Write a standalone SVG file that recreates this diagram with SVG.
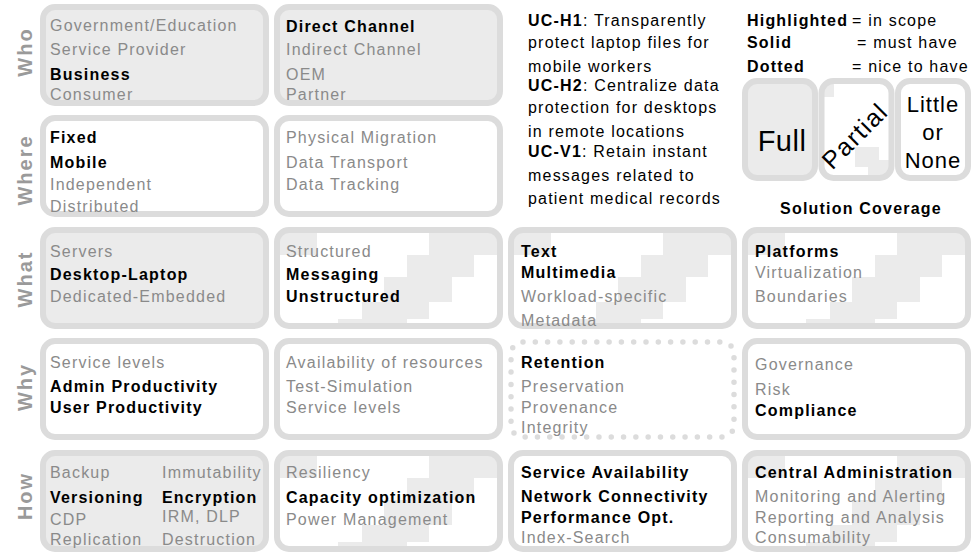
<svg xmlns="http://www.w3.org/2000/svg" xmlns:xlink="http://www.w3.org/1999/xlink" width="976" height="552" viewBox="0 0 976 552">
<style>
text{font-family:"Liberation Sans",Arial,sans-serif;font-size:16px;letter-spacing:1.2px}
.g{fill:#8a8a8a}
.b{fill:#000;font-weight:bold}
.lbl{fill:#9a9a9a;font-weight:bold;font-size:20px;letter-spacing:2px}
.bg{fill:#fff;stroke:none}
.full{fill:#ebebeb;stroke:none}
.frame{fill:none;stroke:#dcdcdc;stroke-width:6}
.dots{fill:none;stroke:#dcdcdc;stroke-width:5.5;stroke-dasharray:0 12.3;stroke-linecap:round}
.st{fill:#ebebeb}
</style>
<defs>
<clipPath id="clip"><rect x="3" y="3" width="223" height="96" rx="12"/></clipPath>
<g id="stairs">
<rect class="st" x="6" y="6" width="37" height="22"/>
<rect class="st" x="155" y="6" width="70" height="22"/>
<rect class="st" x="133" y="28" width="67" height="22"/>
<rect class="st" x="110" y="50" width="68" height="25"/>
<rect class="st" x="88" y="75" width="67" height="17"/>
<rect class="st" x="64" y="92" width="69" height="8"/>
</g>
<clipPath id="lclip"><rect x="821.5" y="81" width="70" height="97" rx="12"/></clipPath>
</defs>

<g id="row-labels">
<text class="lbl" text-anchor="middle" transform="translate(32,52) rotate(-90)">Who</text>
<text class="lbl" text-anchor="middle" transform="translate(32,170) rotate(-90)">Where</text>
<text class="lbl" text-anchor="middle" transform="translate(32,279) rotate(-90)">What</text>
<text class="lbl" text-anchor="middle" transform="translate(32,387) rotate(-90)">Why</text>
<text class="lbl" text-anchor="middle" transform="translate(32,496) rotate(-90)">How</text>
</g>

<!-- WHO -->
<g id="who-1" transform="translate(40,4)">
<rect class="full" x="3" y="3" width="223" height="96" rx="12"/>
<rect class="frame" x="3" y="3" width="223" height="96" rx="12"/>
<text x="10" y="27" class="g">Government/Education</text>
<text x="10" y="51" class="g">Service Provider</text>
<text x="10" y="76" class="b">Business</text>
<text x="10" y="96" class="g">Consumer</text>
</g>
<g id="who-2" transform="translate(274,4)">
<rect class="full" x="3" y="3" width="223" height="96" rx="12"/>
<rect class="frame" x="3" y="3" width="223" height="96" rx="12"/>
<text x="12" y="28" class="b">Direct Channel</text>
<text x="12" y="51" class="g">Indirect Channel</text>
<text x="12" y="76" class="g">OEM</text>
<text x="12" y="96" class="g">Partner</text>
</g>

<!-- WHERE -->
<g id="where-1" transform="translate(40,115)">
<rect class="bg" x="3" y="3" width="223" height="96" rx="12"/>
<rect class="frame" x="3" y="3" width="223" height="96" rx="12"/>
<text x="10" y="28" class="b">Fixed</text>
<text x="10" y="53" class="b">Mobile</text>
<text x="10" y="75" class="g">Independent</text>
<text x="10" y="97" class="g">Distributed</text>
</g>
<g id="where-2" transform="translate(274,115)">
<rect class="bg" x="3" y="3" width="223" height="96" rx="12"/>
<rect class="frame" x="3" y="3" width="223" height="96" rx="12"/>
<text x="12" y="28" class="g">Physical Migration</text>
<text x="12" y="53" class="g">Data Transport</text>
<text x="12" y="75" class="g">Data Tracking</text>
</g>

<!-- WHAT -->
<g id="what-1" transform="translate(40,227)">
<rect class="full" x="3" y="3" width="223" height="96" rx="12"/>
<rect class="frame" x="3" y="3" width="223" height="96" rx="12"/>
<text x="10" y="30" class="g">Servers</text>
<text x="10" y="53" class="b">Desktop-Laptop</text>
<text x="10" y="75" class="g">Dedicated-Embedded</text>
</g>
<g id="what-2" transform="translate(274,227)">
<rect class="bg" x="3" y="3" width="223" height="96" rx="12"/>
<use xlink:href="#stairs" clip-path="url(#clip)"/>
<rect class="frame" x="3" y="3" width="223" height="96" rx="12"/>
<text x="12" y="30" class="g">Structured</text>
<text x="12" y="53" class="b">Messaging</text>
<text x="12" y="75" class="b">Unstructured</text>
</g>
<g id="what-3" transform="translate(508,227)">
<rect class="bg" x="3" y="3" width="223" height="96" rx="12"/>
<use xlink:href="#stairs" clip-path="url(#clip)"/>
<rect class="frame" x="3" y="3" width="223" height="96" rx="12"/>
<text x="13" y="30" class="b">Text</text>
<text x="13" y="51" class="b">Multimedia</text>
<text x="13" y="75" class="g">Workload-specific</text>
<text x="13" y="99" class="g">Metadata</text>
</g>
<g id="what-4" transform="translate(742,227)">
<rect class="bg" x="3" y="3" width="223" height="96" rx="12"/>
<use xlink:href="#stairs" clip-path="url(#clip)"/>
<rect class="frame" x="3" y="3" width="223" height="96" rx="12"/>
<text x="13" y="30" class="b">Platforms</text>
<text x="13" y="51" class="g">Virtualization</text>
<text x="13" y="75" class="g">Boundaries</text>
</g>

<!-- WHY -->
<g id="why-1" transform="translate(40,338)">
<rect class="bg" x="3" y="3" width="223" height="96" rx="12"/>
<rect class="frame" x="3" y="3" width="223" height="96" rx="12"/>
<text x="10" y="30" class="g">Service levels</text>
<text x="10" y="54" class="b">Admin Productivity</text>
<text x="10" y="75" class="b">User Productivity</text>
</g>
<g id="why-2" transform="translate(274,338)">
<rect class="bg" x="3" y="3" width="223" height="96" rx="12"/>
<rect class="frame" x="3" y="3" width="223" height="96" rx="12"/>
<text x="12" y="30" class="g">Availability of resources</text>
<text x="12" y="54" class="g">Test-Simulation</text>
<text x="12" y="75" class="g">Service levels</text>
</g>
<g id="why-3" transform="translate(508,338)">
<rect class="bg" x="3" y="3" width="223" height="96" rx="12"/>
<rect class="dots" x="3" y="4" width="223" height="95" rx="12"/>
<text x="13" y="30" class="b">Retention</text>
<text x="13" y="54" class="g">Preservation</text>
<text x="13" y="75" class="g">Provenance</text>
<text x="13" y="95" class="g">Integrity</text>
</g>
<g id="why-4" transform="translate(742,338)">
<rect class="bg" x="3" y="3" width="223" height="96" rx="12"/>
<rect class="frame" x="3" y="3" width="223" height="96" rx="12"/>
<text x="13" y="32" class="g">Governance</text>
<text x="13" y="57" class="g">Risk</text>
<text x="13" y="78" class="b">Compliance</text>
</g>

<!-- HOW -->
<g id="how-1" transform="translate(40,450)">
<rect class="full" x="3" y="3" width="223" height="96" rx="12"/>
<rect class="frame" x="3" y="3" width="223" height="96" rx="12"/>
<text x="10" y="28" class="g">Backup</text>
<text x="10" y="53" class="b">Versioning</text>
<text x="10" y="75" class="g">CDP</text>
<text x="10" y="95" class="g">Replication</text>
<text x="122" y="28" class="g">Immutability</text>
<text x="122" y="53" class="b">Encryption</text>
<text x="122" y="72" class="g">IRM, DLP</text>
<text x="122" y="95" class="g">Destruction</text>
</g>
<g id="how-2" transform="translate(274,450)">
<rect class="bg" x="3" y="3" width="223" height="96" rx="12"/>
<use xlink:href="#stairs" clip-path="url(#clip)"/>
<rect class="frame" x="3" y="3" width="223" height="96" rx="12"/>
<text x="12" y="28" class="g">Resiliency</text>
<text x="12" y="53" class="b">Capacity optimization</text>
<text x="12" y="75" class="g">Power Management</text>
</g>
<g id="how-3" transform="translate(508,450)">
<rect class="bg" x="3" y="3" width="223" height="96" rx="12"/>
<rect class="frame" x="3" y="3" width="223" height="96" rx="12"/>
<text x="13" y="28" class="b">Service Availability</text>
<text x="13" y="52" class="b">Network Connectivity</text>
<text x="13" y="73" class="b">Performance Opt.</text>
<text x="13" y="93" class="g">Index-Search</text>
</g>
<g id="how-4" transform="translate(742,450)">
<rect class="bg" x="3" y="3" width="223" height="96" rx="12"/>
<use xlink:href="#stairs" clip-path="url(#clip)"/>
<rect class="frame" x="3" y="3" width="223" height="96" rx="12"/>
<text x="13" y="28" class="b">Central Administration</text>
<text x="13" y="52" class="g">Monitoring and Alerting</text>
<text x="13" y="73" class="g">Reporting and Analysis</text>
<text x="13" y="93" class="g">Consumability</text>
</g>

<!-- Use cases -->
<g id="use-cases" fill="#000">
<text x="528" y="26"><tspan font-weight="bold">UC-H1</tspan>: Transparently</text>
<text x="528" y="48">protect laptop files for</text>
<text x="528" y="72">mobile workers</text>
<text x="528" y="91"><tspan font-weight="bold">UC-H2</tspan>: Centralize data</text>
<text x="528" y="113">protection for desktops</text>
<text x="528" y="137">in remote locations</text>
<text x="528" y="157"><tspan font-weight="bold">UC-V1</tspan>:  Retain instant</text>
<text x="528" y="181">messages related to</text>
<text x="528" y="204">patient medical records</text>
</g>

<!-- Legend -->
<g id="legend" fill="#000">
<text x="747" y="26" font-weight="bold" letter-spacing="0.2">Highlighted</text>
<text x="852" y="26" letter-spacing="1.4">= in scope</text>
<text x="747" y="48" font-weight="bold" letter-spacing="0.2">Solid</text>
<text x="857" y="48" letter-spacing="1.4">= must have</text>
<text x="747" y="72" font-weight="bold" letter-spacing="0.2">Dotted</text>
<text x="852" y="72" letter-spacing="1.4">= nice to have</text>
</g>
<g id="legend-full">
<rect class="full" x="745" y="81" width="70" height="97" rx="12"/>
<rect class="frame" x="745" y="81" width="70" height="97" rx="12"/>
<text x="782" y="151" text-anchor="middle" style="font-size:29px;letter-spacing:0.5px">Full</text>
</g>
<g id="legend-partial">
<rect class="bg" x="821.5" y="81" width="70" height="97" rx="12"/>
<g clip-path="url(#lclip)">
<rect class="st" x="824" y="84" width="10" height="13"/>
<rect class="st" x="855" y="147" width="24" height="20"/>
<rect class="st" x="868" y="160" width="22" height="17"/>
</g>
<rect class="frame" x="821.5" y="81" width="70" height="97" rx="12"/>
<text text-anchor="middle" transform="translate(861,142) rotate(-45)" style="font-size:25px;letter-spacing:1.5px">Partial</text>
</g>
<g id="legend-none">
<rect class="bg" x="898" y="81" width="70" height="97" rx="12"/>
<rect class="frame" x="898" y="81" width="70" height="97" rx="12"/>
<text x="933" y="112" text-anchor="middle" style="font-size:22px;letter-spacing:1px">Little</text>
<text x="933" y="140" text-anchor="middle" style="font-size:22px;letter-spacing:1px">or</text>
<text x="933" y="168" text-anchor="middle" style="font-size:22px;letter-spacing:1px">None</text>
</g>
<text id="legend-title" x="861" y="214" text-anchor="middle" font-weight="bold">Solution Coverage</text>
</svg>
